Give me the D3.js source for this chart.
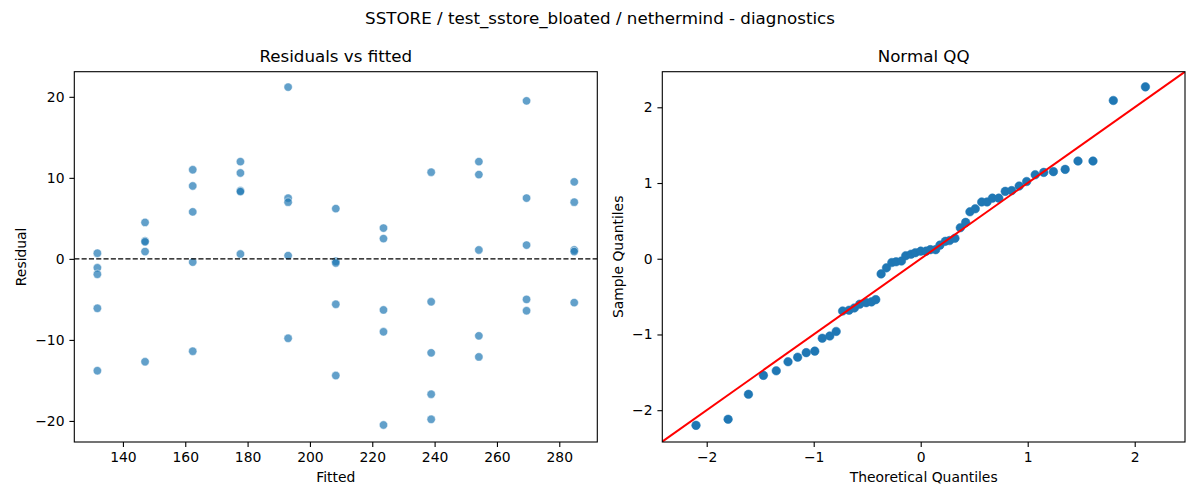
<!DOCTYPE html>
<html>
<head>
<meta charset="utf-8">
<script src="https://cdn.jsdelivr.net/npm/d3@7"></script>
<style>
	body { margin: 0; background: #fff; }
	svg { font-family: 'DejaVu Sans', sans-serif; }
	.tick text { font-size: 13.9px; fill: #000; }
	.tick line, .domain { stroke: #000; stroke-width: 1.1px; }
</style>
</head>
<body>
<div id="chart"></div>
<script>
// residuals vs fitted, one array per fitted level (5 runs each)
var fittedLevels = [131.8, 147.1, 162.4, 177.7, 193.0, 208.3, 223.6, 238.9, 254.2, 269.5, 284.8];
var residuals = [
	[0.7, -1.1, -1.9, -6.1, -13.8],
	[4.5, 2.2, 2.1, 0.9, -12.7],
	[11.0, 9.0, 5.8, -0.4, -11.4],
	[12.0, 10.6, 8.4, 8.3, 0.6],
	[21.2, 7.5, 7.0, 0.4, -9.8],
	[6.2, -0.3, -0.5, -5.6, -14.4],
	[3.8, 2.5, -6.3, -9.0, -20.5],
	[10.7, -5.3, -11.6, -16.7, -19.8],
	[12.0, 10.4, 1.1, -9.5, -12.1],
	[19.5, 7.5, 1.7, -5.0, -6.4],
	[9.5, 7.0, 1.1, 0.9, -5.4]
];

// normal QQ points (theoretical, sample)
var qqTheo = [-2.10, -1.80, -1.61, -1.47, -1.35, -1.24, -1.15, -1.07, -0.99, -0.92, -0.85,
	-0.79, -0.73, -0.67, -0.62, -0.57, -0.51, -0.46, -0.42, -0.37, -0.32, -0.27, -0.23,
	-0.18, -0.14, -0.09, -0.05, 0.00, 0.05, 0.09, 0.14, 0.18, 0.23, 0.27, 0.32, 0.37,
	0.42, 0.46, 0.51, 0.57, 0.62, 0.67, 0.73, 0.79, 0.85, 0.92, 0.99, 1.07, 1.15, 1.24,
	1.35, 1.47, 1.61, 1.80, 2.10];
var qqSample = [-2.20, -2.12, -1.79, -1.54, -1.48, -1.36, -1.30, -1.24, -1.22, -1.05, -1.02,
	-0.96, -0.69, -0.68, -0.65, -0.60, -0.58, -0.57, -0.54, -0.20, -0.12, -0.05, -0.04,
	-0.03, 0.04, 0.06, 0.08, 0.10, 0.10, 0.12, 0.12, 0.18, 0.23, 0.24, 0.27, 0.41,
	0.48, 0.62, 0.66, 0.75, 0.75, 0.80, 0.80, 0.89, 0.90, 0.96, 1.02, 1.11, 1.14, 1.15,
	1.18, 1.29, 1.29, 2.09, 2.27];

var leftTicksX = [140, 160, 180, 200, 220, 240, 260, 280];
var leftTicksY = [-20, -10, 0, 10, 20];
var qqTicks = [-2, -1, 0, 1, 2];

var width = 1200, height = 500;
var tickLen = 4.9, tickPad = 4.9;
var intFmt = d3.format('d');

var svg = d3.select('#chart').append('svg')
	.attr('width', width)
	.attr('height', height);

svg.append('text')
	.attr('x', 600)
	.attr('y', 24)
	.attr('text-anchor', 'middle')
	.style('font-size', '16.7px')
	.text('SSTORE / test_sstore_bloated / nethermind - diagnostics');

function makePanel(box, xDomain, yDomain, xTicks, yTicks, title, xLabel, yLabel, yLabelX, id) {
	var x = d3.scaleLinear().domain(xDomain).range([box.x0, box.x1]);
	var y = d3.scaleLinear().domain(yDomain).range([box.y1, box.y0]);

	svg.append('clipPath').attr('id', id)
		.append('rect')
		.attr('x', box.x0).attr('y', box.y0)
		.attr('width', box.x1 - box.x0).attr('height', box.y1 - box.y0);

	var g = svg.append('g');
	var plot = g.append('g').attr('clip-path', 'url(#' + id + ')');

	g.append('g')
		.attr('transform', 'translate(0,' + box.y1 + ')')
		.call(d3.axisBottom(x).tickValues(xTicks).tickFormat(intFmt)
			.tickSize(tickLen).tickPadding(tickPad).tickSizeOuter(0))
		.call(function(a) { a.select('.domain').remove(); });
	g.append('g')
		.attr('transform', 'translate(' + box.x0 + ',0)')
		.call(d3.axisLeft(y).tickValues(yTicks).tickFormat(intFmt)
			.tickSize(tickLen).tickPadding(tickPad).tickSizeOuter(0))
		.call(function(a) { a.select('.domain').remove(); });
	g.selectAll('.tick text').style('font-family', "'DejaVu Sans', sans-serif");

	g.append('rect')
		.attr('x', box.x0).attr('y', box.y0)
		.attr('width', box.x1 - box.x0).attr('height', box.y1 - box.y0)
		.attr('fill', 'none')
		.attr('stroke', '#000')
		.attr('stroke-width', 1.1);

	g.append('text')
		.attr('x', (box.x0 + box.x1) / 2)
		.attr('y', 61.5)
		.attr('text-anchor', 'middle')
		.style('font-size', '16.7px')
		.text(title);
	g.append('text')
		.attr('x', (box.x0 + box.x1) / 2)
		.attr('y', 482)
		.attr('text-anchor', 'middle')
		.style('font-size', '13.9px')
		.text(xLabel);
	g.append('text')
		.attr('transform', 'translate(' + yLabelX + ',' + ((box.y0 + box.y1) / 2) + ') rotate(-90)')
		.attr('text-anchor', 'middle')
		.style('font-size', '13.9px')
		.text(yLabel);

	return {x: x, y: y, plot: plot};
}

// left panel: residuals vs fitted
var left = makePanel({x0: 74.3, x1: 597.3, y0: 71.7, y1: 442},
	[124.4, 292.2], [-22.6, 23.1], leftTicksX, leftTicksY,
	'Residuals vs fitted', 'Fitted', 'Residual', 26, 'clipL');

var resPoints = [];
fittedLevels.forEach(function(f, i) {
	residuals[i].forEach(function(r) { resPoints.push({fitted: f, resid: r}); });
});

left.plot.selectAll('.respt')
	.data(resPoints)
	.enter().append('circle')
	.attr('class', 'respt')
	.attr('cx', function(d) { return left.x(d.fitted); })
	.attr('cy', function(d) { return left.y(d.resid); })
	.attr('r', 4.2)
	.attr('fill', '#1f77b4')
	.attr('fill-opacity', 0.7)
	.attr('stroke', '#fff')
	.attr('stroke-opacity', 0.7)
	.attr('stroke-width', 0.7);

left.plot.append('line')
	.attr('x1', left.x.range()[0]).attr('x2', left.x.range()[1])
	.attr('y1', left.y(0)).attr('y2', left.y(0))
	.attr('stroke', '#000')
	.attr('stroke-width', 1.4)
	.attr('stroke-dasharray', '5.1,2.2');

// right panel: normal QQ
var right = makePanel({x0: 662.3, x1: 1185, y0: 71.7, y1: 442},
	[-2.415, 2.47], [-2.42, 2.47], qqTicks, qqTicks,
	'Normal QQ', 'Theoretical Quantiles', 'Sample Quantiles', 623, 'clipR');

right.plot.selectAll('.qqpt')
	.data(qqTheo)
	.enter().append('circle')
	.attr('class', 'qqpt')
	.attr('cx', function(d) { return right.x(d); })
	.attr('cy', function(d, i) { return right.y(qqSample[i]); })
	.attr('r', 4.3)
	.attr('fill', '#1f77b4')
	.attr('stroke', '#1f77b4')
	.attr('stroke-width', 0.5);

right.plot.append('line')
	.attr('x1', right.x(-3)).attr('y1', right.y(-3))
	.attr('x2', right.x(3)).attr('y2', right.y(3))
	.attr('stroke', '#ff0000')
	.attr('stroke-width', 2);
</script>
</body>
</html>
